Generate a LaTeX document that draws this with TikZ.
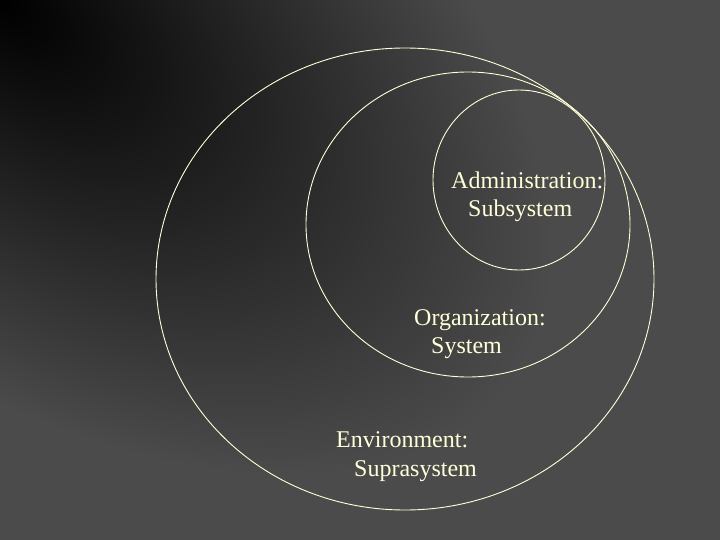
\documentclass[tikz,border=0pt]{standalone}
\usepackage{fontspec}
\setmainfont{Liberation Serif}
\definecolor{bggray}{HTML}{4B4B4B}
\definecolor{paleyellow}{HTML}{FFFFD8}
\tikzset{
  ring/.style={draw=paleyellow, line width=0.9pt},
  lbl/.style={anchor=base west, inner sep=0pt, text=paleyellow, font=\fontsize{24}{28}\selectfont}
}
\begin{document}
\begin{tikzpicture}[x=1pt, y=-1pt]
  \useasboundingbox (0,0) rectangle (720,540);
  \begin{scope}
    \clip (0,0) rectangle (720,540);
    \fill[bggray] (0,0) rectangle (720,540);
    \begin{scope}[transform canvas={rotate=-37}]
      \shade[inner color=black, outer color=bggray] (0,0) ellipse [x radius=640, y radius=350];
    \end{scope}
  \end{scope}
  % rings
  \draw[ring] (405,279) ellipse [x radius=249, y radius=231];
  \draw[ring] (468,224.5) ellipse [x radius=162, y radius=152.5];
  \draw[ring] (519,180) ellipse [x radius=86, y radius=90];
  % labels
  \node[lbl] (adm) at (451,189) {Administration:};
  \node[lbl] (sub) at (468,217) {Subsystem};
  \node[lbl] (org) at (414,325) {Organization:};
  \node[lbl] (sys) at (431,353) {System};
  \node[lbl] (env) at (336,447) {Environment:};
  \node[lbl] (sup) at (354,476) {Suprasystem};
\end{tikzpicture}
\end{document}
